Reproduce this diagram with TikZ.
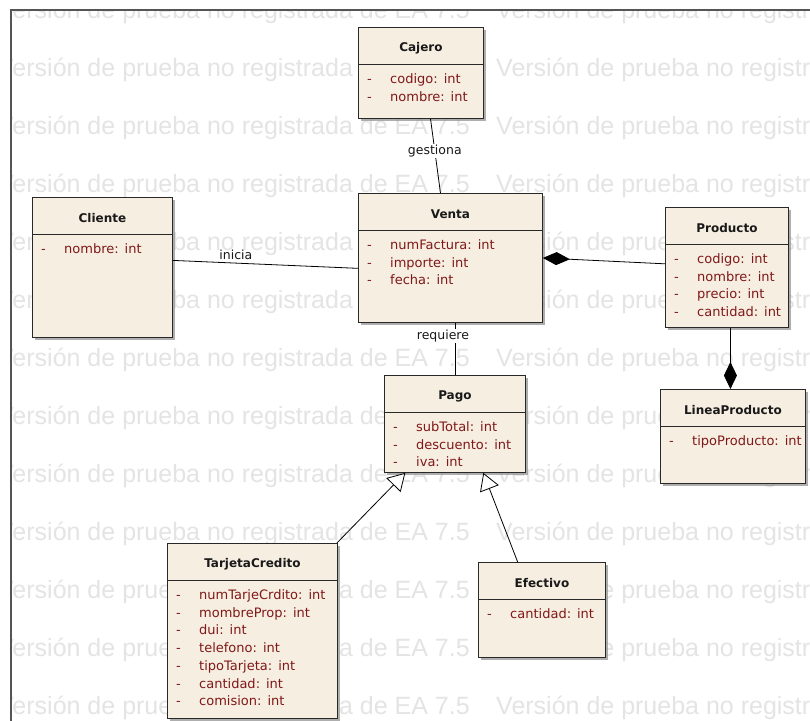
\documentclass[tikz,border=0pt]{standalone}
\usepackage{fontspec}
\setmainfont{DejaVu Sans}
\newfontfamily\wmfont{Liberation Sans}
\usetikzlibrary{arrows.meta,calc,shadows}

\definecolor{classfill}{RGB}{246,238,225}
\definecolor{boxedge}{RGB}{40,40,40}
\definecolor{attrred}{RGB}{128,24,24}
\definecolor{wmgray}{RGB}{228,228,228}
\definecolor{framegray}{RGB}{85,85,85}

\tikzset{
  classbox/.style={draw=boxedge, fill=classfill, line width=0.9pt, anchor=north west,
    inner sep=0pt, drop shadow={shadow xshift=3pt, shadow yshift=-3pt, fill=black!45, opacity=0.7}},
  sepline/.style={draw=boxedge, line width=0.9pt},
  classtitle/.style={font=\fontsize{12pt}{14pt}\selectfont\bfseries, inner sep=0pt, text=black!90},
  attrtext/.style={font=\fontsize{13pt}{15pt}\selectfont, text=attrred, anchor=west,
    inner sep=0pt, text height=9.5pt, text depth=2.5pt},
  link/.style={draw=black, line width=0.8pt},
  linklabel/.style={font=\fontsize{12.5pt}{14pt}\selectfont, inner sep=1pt, text=black!90},
  composition/.style={link, arrows={{Diamond[length=27pt,width=13pt]}-}},
  generalization/.style={link, arrows={-{Triangle[length=17pt,width=20pt,fill=white]}}},
  watermark/.style={font=\wmfont\fontsize{25pt}{28pt}\selectfont, text=wmgray, anchor=base west, inner sep=0pt}
}

% class box: name, x, y, width, height, title
\newcommand\umlclass[6]{%
  \node[classbox, minimum width=#4pt, minimum height=#5pt] (#1) at (#2,#3) {};
  \draw[sepline] ($(#1.north west)+(0,37)$) -- ($(#1.north east)+(0,37)$);
  \node[classtitle] (#1-title) at ($(#1.north)+(0,21)$) {#6};
}
% attribute row: class, index, name, type
\newcommand\umlattr[4]{%
  \node[attrtext] (#1-dash#2) at ($(#1.north west)+(9,{53+17.7*(#2-1)})$) {-};
  \node[attrtext] (#1-attr#2) at ($(#1.north west)+(32,{53+17.7*(#2-1)})$) {#3:\hspace{6pt}#4};
}

\begin{document}
\begin{tikzpicture}[x=1pt, y=-1pt]
  \useasboundingbox (0,0) rectangle (810,720);
  \fill[white] (0,0) rectangle (810,720);

  % evaluation watermark rows
  \begin{scope}
    \clip (11,10) rectangle (830,740);
    \foreach \row in {18,76,...,720} {
      \node[watermark] at (-3,\row) {Versión de prueba no registrada de EA 7.5};
      \node[watermark] at (496,\row) {Versión de prueba no registrada de EA 7.5};
    }
  \end{scope}

  % diagram frame
  \draw[framegray, line width=1.4pt] (11,740) -- (11,10) -- (830,10);

  % classes
  \umlclass{cajero}{358}{27}{125}{91}{Cajero}
  \umlattr{cajero}{1}{codigo}{int}
  \umlattr{cajero}{2}{nombre}{int}

  \umlclass{cliente}{32}{197}{140}{140}{Cliente}
  \umlattr{cliente}{1}{nombre}{int}

  \umlclass{venta}{358}{193}{184}{129}{Venta}
  \umlattr{venta}{1}{numFactura}{int}
  \umlattr{venta}{2}{importe}{int}
  \umlattr{venta}{3}{fecha}{int}

  \umlclass{producto}{665}{207}{123}{120}{Producto}
  \umlattr{producto}{1}{codigo}{int}
  \umlattr{producto}{2}{nombre}{int}
  \umlattr{producto}{3}{precio}{int}
  \umlattr{producto}{4}{cantidad}{int}

  \umlclass{linea}{660}{389}{145}{94}{LineaProducto}
  \umlattr{linea}{1}{tipoProducto}{int}

  \umlclass{pago}{384}{375}{141}{97}{Pago}
  \umlattr{pago}{1}{subTotal}{int}
  \umlattr{pago}{2}{descuento}{int}
  \umlattr{pago}{3}{iva}{int}

  \umlclass{tarjeta}{167}{543}{170}{175}{TarjetaCredito}
  \umlattr{tarjeta}{1}{numTarjeCrdito}{int}
  \umlattr{tarjeta}{2}{mombreProp}{int}
  \umlattr{tarjeta}{3}{dui}{int}
  \umlattr{tarjeta}{4}{telefono}{int}
  \umlattr{tarjeta}{5}{tipoTarjeta}{int}
  \umlattr{tarjeta}{6}{cantidad}{int}
  \umlattr{tarjeta}{7}{comision}{int}

  \umlclass{efectivo}{478}{562}{127}{95}{Efectivo}
  \umlattr{efectivo}{1}{cantidad}{int}

  % associations
  \draw[link] ($(cajero.south west)!0.576!(cajero.south east)$)
    -- node[linklabel, pos=0.43, fill=white] (lbl-gestiona) {gestiona}
       ($(venta.north west)!0.446!(venta.north east)$);
  \draw[link] ($(cliente.north east)!0.45!(cliente.south east)$)
    -- node[linklabel, pos=0.34, above=2pt] (lbl-inicia) {inicia}
       ($(venta.north west)!0.58!(venta.south west)$);
  \draw[link] (pago.north |- venta.south)
    -- node[linklabel, pos=0.25, xshift=-12pt, fill=white] (lbl-requiere) {requiere}
       (pago.north);

  % compositions
  \draw[composition] ($(venta.north east)!0.5!(venta.south east)$)
    -- ($(producto.north west)!0.47!(producto.south west)$);
  \coordinate (prod-foot) at ($(producto.south west)!0.528!(producto.south east)$);
  \draw[composition] (prod-foot |- linea.north) -- (prod-foot);

  % generalizations
  \draw[generalization] ($(tarjeta.north east)+(-1,0)$)
    -- ($(pago.south west)!0.15!(pago.south east)$);
  \draw[generalization] ($(efectivo.north west)!0.31!(efectivo.north east)$)
    -- ($(pago.south west)!0.70!(pago.south east)$);
\end{tikzpicture}
\end{document}
